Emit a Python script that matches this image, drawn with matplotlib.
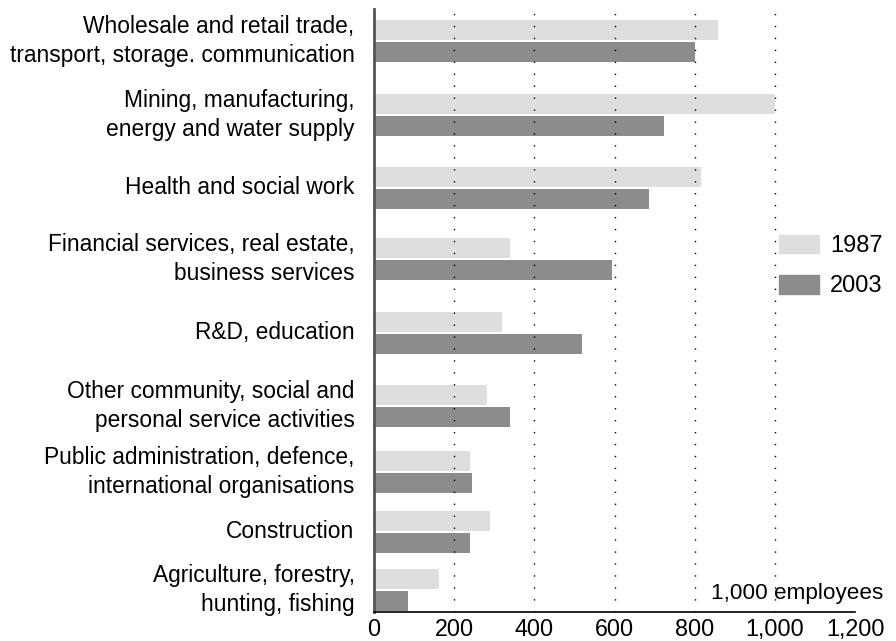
import matplotlib
matplotlib.use("Agg")
import matplotlib.pyplot as plt
from matplotlib.patches import Patch

plt.rcParams['font.family'] = ['Liberation Sans', 'DejaVu Sans']

# Sectors, top to bottom
sectors = [
    "Wholesale and retail trade,\ntransport, storage. communication",
    "Mining, manufacturing,\nenergy and water supply",
    "Health and social work",
    "Financial services, real estate,\nbusiness services",
    "R&D, education",
    "Other community, social and\npersonal service activities",
    "Public administration, defence,\ninternational organisations",
    "Construction",
    "Agriculture, forestry,\nhunting, fishing",
]
emp_1987 = [859, 1000, 816, 339, 319, 281, 239, 289, 162]
emp_2003 = [802, 724, 687, 595, 518, 339, 244, 239, 85]
x_ticks = [0, 200, 400, 600, 800, 1000, 1200]
x_tick_labels = ["0", "200", "400", "600", "800", "1,000", "1,200"]

# layout: group centres (rows are not evenly spaced in the original)
row_centers = [41, 115, 188, 259, 333, 406, 472, 532, 590]
bar_h = 20
offset = 11

light = '#dedede'
dark = '#8c8c8c'

fig = plt.figure(figsize=(8.96, 6.41), dpi=100)
ax = fig.add_axes([374 / 896, 1 - 612 / 641, (855 - 374) / 896, (612 - 9) / 641])

y1 = [c - offset for c in row_centers]
y2 = [c + offset for c in row_centers]
ax.barh(y1, emp_1987, height=bar_h, color=light, zorder=1, label='1987')
ax.barh(y2, emp_2003, height=bar_h, color=dark, zorder=1, label='2003')

# dotted grid lines on top of the bars
for xv in x_ticks[1:-1]:
    ax.axvline(xv, color='black', linestyle=(0, (1, 7.6)), linewidth=1.0, zorder=3)

ax.set_xlim(0, 1200)
ax.set_ylim(612, 9)

ax.set_yticks(row_centers)
ax.set_yticklabels(sectors, fontsize=16.4, linespacing=1.3, va='center')
ax.tick_params(axis='y', length=0, pad=14)
ax.set_xticks(x_ticks)
ax.set_xticklabels(x_tick_labels, fontsize=16.8)
ax.tick_params(axis='x', length=0, pad=4)

for side in ['top', 'right']:
    ax.spines[side].set_visible(False)
ax.spines['left'].set_color('#555555')
ax.spines['left'].set_linewidth(2)
ax.spines['bottom'].set_color('black')
ax.spines['bottom'].set_linewidth(1.2)
ax.set_facecolor('none')

ax.text(1.06, 0.013, "1,000 employees", transform=ax.transAxes,
        ha='right', va='bottom', fontsize=16.2)

handles = [Patch(color=light, label='1987'), Patch(color=dark, label='2003')]
fig.legend(handles=handles, loc='center left', bbox_to_anchor=(779 / 896, 1 - 266 / 641),
           frameon=False, fontsize=17, handlelength=1.7, handleheight=0.85,
           labelspacing=0.75, handletextpad=0.45, borderaxespad=0, borderpad=0)

fig.savefig("out.png", dpi=100)
